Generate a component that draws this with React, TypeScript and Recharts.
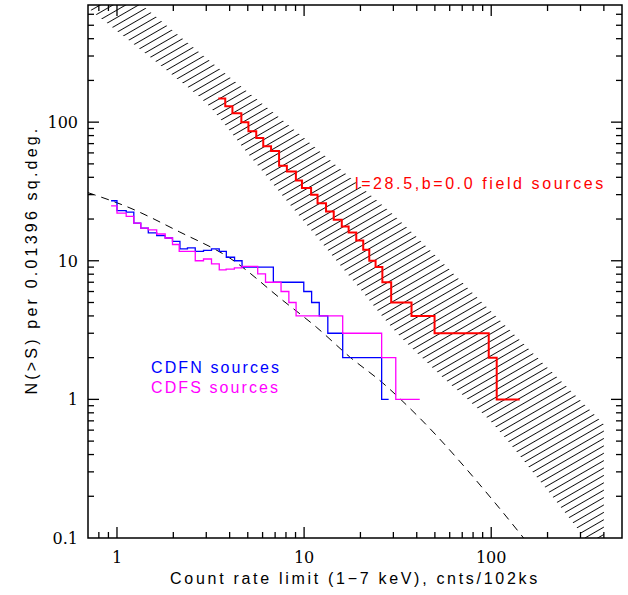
import { ComposedChart, Line, Area, XAxis, YAxis, ReferenceArea, ReferenceLine } from 'recharts';

// CDFN (blue) step curve: count rate where each level starts, N(>S)
const cdfnS = [0.93, 1.0, 1.12, 1.23, 1.34, 1.47, 1.63, 1.81, 1.98, 2.17, 2.38, 2.62, 2.9, 3.2, 3.52, 3.84, 4.25, 4.66, 6.85, 9.96, 10.97, 12.05, 13.39, 16.08, 25.97, 28.3];
const cdfnN = [27.1, 23.0, 22.4, 18.7, 17.2, 15.9, 15.2, 14.6, 13.8, 12.2, 12.4, 11.7, 11.9, 12.2, 11.7, 10.6, 10.0, 9.0, 7, 6, 5, 4, 3, 2, 1, 1];

// CDFS (magenta)
const cdfsS = [0.93, 1.0, 1.12, 1.23, 1.34, 1.47, 1.63, 1.81, 1.98, 2.15, 2.62, 2.9, 3.2, 3.52, 3.83, 4.24, 4.66, 5.65, 6.22, 7.53, 8.29, 9.06, 16.08, 25.97, 30.9, 41.5];
const cdfsN = [24.9, 22.1, 20.9, 18.7, 17.2, 16.7, 15.6, 14.6, 13.1, 11.7, 10.0, 10.3, 9.5, 8.6, 8.7, 8.9, 9.1, 8.05, 7, 6, 5, 4, 3, 2, 1, 1];

// l=28.5, b=0.0 field sources (red)
const fieldS = [3.48, 3.79, 4.14, 4.62, 5.04, 5.55, 6.05, 6.66, 7.35, 8.09, 9.04, 9.74, 10.9, 11.8, 13.1, 14.4, 15.9, 17.3, 19.0, 20.7, 22.3, 24.1, 26.2, 29.2, 37.5, 49.8, 97, 107, 142];
const fieldN = [148, 130, 116, 100, 86, 77, 67, 62, 48.5, 44, 38, 33.5, 30, 26, 22.7, 19.8, 17.7, 16, 14, 12, 10, 9, 7, 5, 4, 3, 2, 1, 1];

// dashed model curve
const modelS = [0.7, 1.16, 2.15, 3.99, 7.66, 11.6, 17.5, 26.2, 39.9, 106, 149];
const modelN = [31.0, 24.2, 16.2, 10.5, 5.2, 3.33, 2.03, 1.32, 0.773, 0.176, 0.1];

// hatched band (expected range)
const bandS = [0.7, 1, 2, 3, 5, 10, 20, 30, 50, 100, 200, 300, 400];
const bandLo = [665, 454, 216, 137, 59.4, 19.1, 6.2, 3.2, 1.63, 0.686, 0.22, 0.11, 0.067];
const bandHi = [1500, 990, 455, 290, 165, 76.7, 34.4, 21.5, 11.0, 4.3, 1.69, 0.98, 0.66];

const xTicks = [0.8, 0.9, 1, 2, 3, 4, 5, 6, 7, 8, 9, 10, 20, 30, 40, 50, 60, 70, 80, 90, 100, 200, 300, 400];
const yTicks = [0.2, 0.3, 0.4, 0.5, 0.6, 0.7, 0.8, 0.9, 1, 2, 3, 4, 5, 6, 7, 8, 9, 10, 20, 30, 40, 50, 60, 70, 80, 90, 100, 200, 300, 400, 500, 600];
const xMajor = [1, 10, 100];
const yMajor = [0.1, 1, 10, 100];

const cdfn = cdfnS.map((s, i) => ({ s, n: cdfnN[i] }));
const cdfs = cdfsS.map((s, i) => ({ s, n: cdfsN[i] }));
const field = fieldS.map((s, i) => ({ s, n: fieldN[i] }));
const model = modelS.map((s, i) => ({ s, n: modelN[i] }));
const band = bandS.map((s, i) => ({ s, range: [bandLo[i], bandHi[i]] }));

const W = 628;
const H = 595;
const LEFT = 88;
const RIGHT = 622;
const TOP = 5;
const BOTTOM = 538;
const X0 = 0.7;
const X1 = 500;
const Y0 = 0.1;
const Y1 = 700;
// px per decade, used only to turn tick lengths into log-space factors
const PX_DEC_X = (RIGHT - LEFT) / Math.log10(X1 / X0);
const PX_DEC_Y = (BOTTOM - TOP) / Math.log10(Y1 / Y0);
const kx = (len: number) => Math.pow(10, len / PX_DEC_X);
const ky = (len: number) => Math.pow(10, len / PX_DEC_Y);
const isMajor = (v: number) => Math.abs(Math.log10(v) - Math.round(Math.log10(v))) < 1e-6;

const tickFont = '"DejaVu Serif", serif';
const textFont = '"Liberation Sans", Arial, sans-serif';

const XLabel = (props: any) => (
  <text x={props.x} y={563} textAnchor="middle" fontFamily={tickFont} fontSize={16} fill="#000">
    {String(props.payload.value)}
  </text>
);

const YLabel = (props: any) => (
  <text x={78} y={props.y + 6} textAnchor="end" fontFamily={tickFont} fontSize={16} fill="#000">
    {String(props.payload.value)}
  </text>
);

const tickStyle = { stroke: '#000', strokeWidth: 1.3, ifOverflow: 'visible' as const };

// inward ticks on all four sides
const xTickMarks = xTicks.flatMap((v) => {
  const len = isMajor(v) ? 11 : 6;
  return [
    <ReferenceLine key={`b${v}`} segment={[{ x: v, y: Y0 }, { x: v, y: Y0 * ky(len) }]} {...tickStyle} />,
    <ReferenceLine key={`t${v}`} segment={[{ x: v, y: Y1 }, { x: v, y: Y1 / ky(len) }]} {...tickStyle} />,
  ];
});

const yTickMarks = yTicks.flatMap((v) => {
  const len = isMajor(v) ? 11 : 6;
  return [
    <ReferenceLine key={`l${v}`} segment={[{ x: X0, y: v }, { x: X0 * kx(len), y: v }]} {...tickStyle} />,
    <ReferenceLine key={`r${v}`} segment={[{ x: X1, y: v }, { x: X1 / kx(len), y: v }]} {...tickStyle} />,
  ];
});

export default function App() {
  return (
    <div style={{ position: 'absolute', left: 0, top: 0, width: W, height: H, background: '#fff' }}>
      <svg width={0} height={0} style={{ position: 'absolute' }}>
        <defs>
          <pattern id="hatch" patternUnits="userSpaceOnUse" width={20} height={6.4} patternTransform="rotate(-30)">
            <line x1={0} y1={3.2} x2={20} y2={3.2} stroke="#000" strokeWidth={0.9} />
          </pattern>
        </defs>
      </svg>
      <ComposedChart width={W} height={H} margin={{ top: TOP, right: W - RIGHT, left: LEFT - 60, bottom: H - BOTTOM - 40 }}>
        <XAxis
          dataKey="s"
          type="number"
          scale="log"
          domain={[X0, X1]}
          allowDataOverflow
          ticks={xMajor}
          interval={0}
          tick={XLabel}
          tickLine={false}
          axisLine={false}
          height={40}
        />
        <YAxis
          type="number"
          scale="log"
          domain={[Y0, Y1]}
          allowDataOverflow
          ticks={yMajor}
          interval={0}
          tick={YLabel}
          tickLine={false}
          axisLine={false}
          width={60}
        />
        <Area
          data={band}
          dataKey="range"
          type="monotone"
          stroke="none"
          fill="url(#hatch)"
          fillOpacity={1}
          isAnimationActive={false}
        />
        <Line
          data={model}
          dataKey="n"
          type="monotone"
          stroke="#000"
          strokeWidth={1}
          strokeDasharray="8 6"
          dot={false}
          isAnimationActive={false}
        />
        <Line data={cdfn} dataKey="n" type="stepAfter" stroke="#0000ff" strokeWidth={1.3} dot={false} isAnimationActive={false} />
        <Line data={cdfs} dataKey="n" type="stepAfter" stroke="#ff00ff" strokeWidth={1.3} dot={false} isAnimationActive={false} />
        <Line data={field} dataKey="n" type="stepAfter" stroke="#ff0000" strokeWidth={2} dot={false} isAnimationActive={false} />
        {xTickMarks}
        {yTickMarks}
        <ReferenceArea x1={X0} x2={X1} y1={Y0} y2={Y1} fill="none" stroke="#000" strokeWidth={1.5} />
      </ComposedChart>
      <svg width={W} height={H} style={{ position: 'absolute', left: 0, top: 0, pointerEvents: 'none' }}>
        <text x={355} y={189} fontFamily={textFont} fontSize={16} letterSpacing={2.6} fill="#ff0000">
          l=28.5,b=0.0 field sources
        </text>
        <text x={151} y={373} fontFamily={textFont} fontSize={16} letterSpacing={2.1} fill="#0000ff">
          CDFN sources
        </text>
        <text x={151} y={392.5} fontFamily={textFont} fontSize={16} letterSpacing={2.1} fill="#ff00ff">
          CDFS sources
        </text>
        <text x={355} y={584} textAnchor="middle" fontFamily={textFont} fontSize={16} letterSpacing={2.7} fill="#000">
          Count rate limit (1−7 keV), cnts/102ks
        </text>
        <text transform="translate(37,260) rotate(-90)" textAnchor="middle" fontFamily={textFont} fontSize={16} letterSpacing={3.2} fill="#000">
          N(&gt;S) per 0.01396 sq.deg.
        </text>
      </svg>
    </div>
  );
}
